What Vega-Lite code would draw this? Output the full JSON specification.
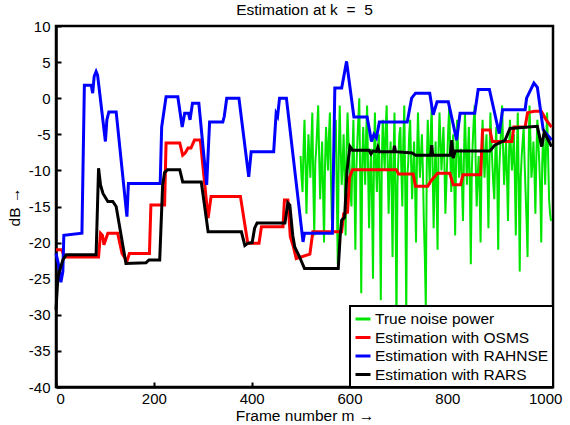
{
  "$schema": "https://vega.github.io/schema/vega-lite/v6.json",
  "width": 497,
  "height": 361,
  "autosize": {"type": "none"},
  "padding": {"left": 56, "top": 26, "right": 17, "bottom": 38},
  "background": "white",
  "title": {"text": "Estimation at k \u00a0=\u00a0 5", "font": "Liberation Sans", "fontSize": 15.5, "fontWeight": "normal", "color": "black", "anchor": "middle", "frame": "group", "offset": 1},
  "data": {"values": [
    {"series":"RAHNSE","frame":0,"dB":-21.5},{"series":"RAHNSE","frame":5,"dB":-23},{"series":"RAHNSE","frame":10,"dB":-25.5},{"series":"RAHNSE","frame":14,"dB":-24},{"series":"RAHNSE","frame":16,"dB":-19},{"series":"RAHNSE","frame":53,"dB":-18.7},{"series":"RAHNSE","frame":58,"dB":1.8},{"series":"RAHNSE","frame":72,"dB":1.8},{"series":"RAHNSE","frame":75,"dB":0.7},{"series":"RAHNSE","frame":78,"dB":3},{"series":"RAHNSE","frame":82,"dB":3.7},{"series":"RAHNSE","frame":85,"dB":3.2},{"series":"RAHNSE","frame":101,"dB":-6},{"series":"RAHNSE","frame":104,"dB":-3},{"series":"RAHNSE","frame":108,"dB":-1.9},{"series":"RAHNSE","frame":123,"dB":-1.9},{"series":"RAHNSE","frame":145,"dB":-16.4},{"series":"RAHNSE","frame":148,"dB":-11.8},{"series":"RAHNSE","frame":213,"dB":-11.8},{"series":"RAHNSE","frame":216,"dB":-4},{"series":"RAHNSE","frame":225,"dB":0.2},{"series":"RAHNSE","frame":249,"dB":0.2},{"series":"RAHNSE","frame":258,"dB":-4},{"series":"RAHNSE","frame":263,"dB":-2.1},{"series":"RAHNSE","frame":271,"dB":-2.1},{"series":"RAHNSE","frame":274,"dB":-3},{"series":"RAHNSE","frame":279,"dB":-0.7},{"series":"RAHNSE","frame":292,"dB":-0.7},{"series":"RAHNSE","frame":308,"dB":-12},{"series":"RAHNSE","frame":314,"dB":-3.3},{"series":"RAHNSE","frame":341,"dB":-3.3},{"series":"RAHNSE","frame":344,"dB":-2.5},{"series":"RAHNSE","frame":349,"dB":0},{"series":"RAHNSE","frame":374,"dB":0},{"series":"RAHNSE","frame":394,"dB":-10.9},{"series":"RAHNSE","frame":399,"dB":-7.4},{"series":"RAHNSE","frame":445,"dB":-7.4},{"series":"RAHNSE","frame":450,"dB":-2.1},{"series":"RAHNSE","frame":453,"dB":-2.5},{"series":"RAHNSE","frame":457,"dB":0},{"series":"RAHNSE","frame":471,"dB":0},{"series":"RAHNSE","frame":505,"dB":-19.9},{"series":"RAHNSE","frame":508,"dB":-18.7},{"series":"RAHNSE","frame":565,"dB":-18.7},{"series":"RAHNSE","frame":570,"dB":1.4},{"series":"RAHNSE","frame":584,"dB":1.4},{"series":"RAHNSE","frame":594,"dB":5.1},{"series":"RAHNSE","frame":609,"dB":-2.6},{"series":"RAHNSE","frame":636,"dB":-2.6},{"series":"RAHNSE","frame":645,"dB":-6},{"series":"RAHNSE","frame":650,"dB":-5},{"series":"RAHNSE","frame":655,"dB":-5.5},{"series":"RAHNSE","frame":661,"dB":-3.3},{"series":"RAHNSE","frame":718,"dB":-3.3},{"series":"RAHNSE","frame":727,"dB":0},{"series":"RAHNSE","frame":735,"dB":0.7},{"series":"RAHNSE","frame":764,"dB":0.7},{"series":"RAHNSE","frame":771,"dB":-2.3},{"series":"RAHNSE","frame":779,"dB":-0.5},{"series":"RAHNSE","frame":802,"dB":-0.5},{"series":"RAHNSE","frame":819,"dB":-5.8},{"series":"RAHNSE","frame":826,"dB":-2.1},{"series":"RAHNSE","frame":856,"dB":-2.1},{"series":"RAHNSE","frame":863,"dB":1.2},{"series":"RAHNSE","frame":886,"dB":1.2},{"series":"RAHNSE","frame":906,"dB":-4.9},{"series":"RAHNSE","frame":913,"dB":-1.6},{"series":"RAHNSE","frame":959,"dB":-1.6},{"series":"RAHNSE","frame":962,"dB":0},{"series":"RAHNSE","frame":977,"dB":2.1},{"series":"RAHNSE","frame":984,"dB":1.5},{"series":"RAHNSE","frame":996,"dB":-4.4},{"series":"RAHNSE","frame":1013,"dB":-5.8},

    {"series":"OSMS","frame":0,"dB":-21},{"series":"OSMS","frame":12,"dB":-21},{"series":"OSMS","frame":17,"dB":-22},{"series":"OSMS","frame":87,"dB":-22},{"series":"OSMS","frame":91,"dB":-18.7},{"series":"OSMS","frame":95,"dB":-19},{"series":"OSMS","frame":98,"dB":-20.3},{"series":"OSMS","frame":102,"dB":-19.5},{"series":"OSMS","frame":106,"dB":-18.7},{"series":"OSMS","frame":126,"dB":-18.7},{"series":"OSMS","frame":135,"dB":-21.5},{"series":"OSMS","frame":145,"dB":-22.6},{"series":"OSMS","frame":150,"dB":-21.5},{"series":"OSMS","frame":191,"dB":-21.5},{"series":"OSMS","frame":194,"dB":-14.8},{"series":"OSMS","frame":222,"dB":-14.8},{"series":"OSMS","frame":225,"dB":-6.2},{"series":"OSMS","frame":253,"dB":-6.2},{"series":"OSMS","frame":259,"dB":-7.9},{"series":"OSMS","frame":264,"dB":-7.6},{"series":"OSMS","frame":270,"dB":-6.9},{"series":"OSMS","frame":276,"dB":-6.9},{"series":"OSMS","frame":283,"dB":-5.8},{"series":"OSMS","frame":295,"dB":-5.8},{"series":"OSMS","frame":311,"dB":-16.6},{"series":"OSMS","frame":317,"dB":-13.6},{"series":"OSMS","frame":377,"dB":-13.6},{"series":"OSMS","frame":392,"dB":-20.1},{"series":"OSMS","frame":415,"dB":-20.1},{"series":"OSMS","frame":420,"dB":-17.8},{"series":"OSMS","frame":464,"dB":-17.8},{"series":"OSMS","frame":467,"dB":-14.1},{"series":"OSMS","frame":474,"dB":-14.1},{"series":"OSMS","frame":479,"dB":-19.2},{"series":"OSMS","frame":485,"dB":-20.5},{"series":"OSMS","frame":491,"dB":-22.2},{"series":"OSMS","frame":519,"dB":-21.6},{"series":"OSMS","frame":525,"dB":-18.5},{"series":"OSMS","frame":584,"dB":-18.5},{"series":"OSMS","frame":588,"dB":-16},{"series":"OSMS","frame":596,"dB":-15.8},{"series":"OSMS","frame":600,"dB":-11},{"series":"OSMS","frame":606,"dB":-9.9},{"series":"OSMS","frame":696,"dB":-9.9},{"series":"OSMS","frame":700,"dB":-10.5},{"series":"OSMS","frame":730,"dB":-10.5},{"series":"OSMS","frame":735,"dB":-12.2},{"series":"OSMS","frame":760,"dB":-12.2},{"series":"OSMS","frame":766,"dB":-11.5},{"series":"OSMS","frame":780,"dB":-10.4},{"series":"OSMS","frame":805,"dB":-10.4},{"series":"OSMS","frame":812,"dB":-12},{"series":"OSMS","frame":827,"dB":-12},{"series":"OSMS","frame":832,"dB":-10.6},{"series":"OSMS","frame":868,"dB":-10.6},{"series":"OSMS","frame":872,"dB":-4.4},{"series":"OSMS","frame":887,"dB":-4.4},{"series":"OSMS","frame":892,"dB":-6},{"series":"OSMS","frame":932,"dB":-6},{"series":"OSMS","frame":936,"dB":-4},{"series":"OSMS","frame":959,"dB":-4},{"series":"OSMS","frame":964,"dB":-2},{"series":"OSMS","frame":978,"dB":-1.8},{"series":"OSMS","frame":992,"dB":-1.8},{"series":"OSMS","frame":1002,"dB":-3},{"series":"OSMS","frame":1013,"dB":-4},

    {"series":"RARS","frame":0,"dB":-29.3},{"series":"RARS","frame":4,"dB":-24.7},{"series":"RARS","frame":14,"dB":-22.4},{"series":"RARS","frame":21,"dB":-21.7},{"series":"RARS","frame":82,"dB":-21.7},{"series":"RARS","frame":87,"dB":-9.7},{"series":"RARS","frame":91,"dB":-12},{"series":"RARS","frame":96,"dB":-13.2},{"series":"RARS","frame":106,"dB":-14.3},{"series":"RARS","frame":116,"dB":-14.3},{"series":"RARS","frame":123,"dB":-15},{"series":"RARS","frame":143,"dB":-22.9},{"series":"RARS","frame":184,"dB":-22.8},{"series":"RARS","frame":190,"dB":-22.4},{"series":"RARS","frame":212,"dB":-22.4},{"series":"RARS","frame":218,"dB":-12},{"series":"RARS","frame":222,"dB":-10.3},{"series":"RARS","frame":228,"dB":-9.9},{"series":"RARS","frame":253,"dB":-9.9},{"series":"RARS","frame":259,"dB":-11.6},{"series":"RARS","frame":297,"dB":-11.6},{"series":"RARS","frame":311,"dB":-18.5},{"series":"RARS","frame":379,"dB":-18.5},{"series":"RARS","frame":386,"dB":-20.4},{"series":"RARS","frame":392,"dB":-20.1},{"series":"RARS","frame":401,"dB":-20},{"series":"RARS","frame":406,"dB":-18},{"series":"RARS","frame":411,"dB":-17.3},{"series":"RARS","frame":468,"dB":-17.3},{"series":"RARS","frame":474,"dB":-14.5},{"series":"RARS","frame":478,"dB":-14.8},{"series":"RARS","frame":484,"dB":-19},{"series":"RARS","frame":488,"dB":-20.6},{"series":"RARS","frame":498,"dB":-22},{"series":"RARS","frame":508,"dB":-23.6},{"series":"RARS","frame":577,"dB":-23.6},{"series":"RARS","frame":581,"dB":-19},{"series":"RARS","frame":584,"dB":-16.9},{"series":"RARS","frame":590,"dB":-16.5},{"series":"RARS","frame":595,"dB":-10},{"series":"RARS","frame":601,"dB":-6.7},{"series":"RARS","frame":606,"dB":-7.2},{"series":"RARS","frame":640,"dB":-7.2},{"series":"RARS","frame":644,"dB":-7.7},{"series":"RARS","frame":648,"dB":-7.3},{"series":"RARS","frame":655,"dB":-7.4},{"series":"RARS","frame":658,"dB":-6.8},{"series":"RARS","frame":661,"dB":-7.4},{"series":"RARS","frame":690,"dB":-7.4},{"series":"RARS","frame":692,"dB":-6.6},{"series":"RARS","frame":694,"dB":-7.4},{"series":"RARS","frame":728,"dB":-7.6},{"series":"RARS","frame":735,"dB":-7.9},{"series":"RARS","frame":766,"dB":-7.9},{"series":"RARS","frame":768,"dB":-6.5},{"series":"RARS","frame":770,"dB":-7.9},{"series":"RARS","frame":806,"dB":-7.9},{"series":"RARS","frame":809,"dB":-5.8},{"series":"RARS","frame":812,"dB":-8.3},{"series":"RARS","frame":816,"dB":-7.3},{"series":"RARS","frame":887,"dB":-7.3},{"series":"RARS","frame":897,"dB":-6.5},{"series":"RARS","frame":918,"dB":-5.8},{"series":"RARS","frame":928,"dB":-4.2},{"series":"RARS","frame":984,"dB":-3.9},{"series":"RARS","frame":993,"dB":-6.7},{"series":"RARS","frame":998,"dB":-4.7},{"series":"RARS","frame":1004,"dB":-5.5},{"series":"RARS","frame":1013,"dB":-6.7},

    {"series":"True","frame":500,"dB":-8},{"series":"True","frame":502,"dB":-11},{"series":"True","frame":504,"dB":-13},{"series":"True","frame":506,"dB":-7},{"series":"True","frame":508,"dB":-3},{"series":"True","frame":510,"dB":-9},{"series":"True","frame":512,"dB":-16},{"series":"True","frame":514,"dB":-10},{"series":"True","frame":516,"dB":-5},{"series":"True","frame":518,"dB":-8},{"series":"True","frame":520,"dB":-11},{"series":"True","frame":522,"dB":-6},{"series":"True","frame":524,"dB":-2},{"series":"True","frame":526,"dB":-12},{"series":"True","frame":528,"dB":-19},{"series":"True","frame":530,"dB":-9},{"series":"True","frame":532,"dB":-7},{"series":"True","frame":534,"dB":-4},{"series":"True","frame":536,"dB":-1},{"series":"True","frame":538,"dB":-8},{"series":"True","frame":540,"dB":-14},{"series":"True","frame":542,"dB":-10},{"series":"True","frame":544,"dB":-6},{"series":"True","frame":546,"dB":-13},{"series":"True","frame":548,"dB":-20},{"series":"True","frame":550,"dB":-9},{"series":"True","frame":552,"dB":-4},{"series":"True","frame":554,"dB":-7},{"series":"True","frame":556,"dB":-10},{"series":"True","frame":558,"dB":-5},{"series":"True","frame":560,"dB":-2},{"series":"True","frame":562,"dB":-11},{"series":"True","frame":564,"dB":-17},{"series":"True","frame":566,"dB":-12},{"series":"True","frame":568,"dB":-8},{"series":"True","frame":570,"dB":-6},{"series":"True","frame":572,"dB":-3},{"series":"True","frame":574,"dB":-13},{"series":"True","frame":576,"dB":-23},{"series":"True","frame":578,"dB":-8},{"series":"True","frame":580,"dB":-1},{"series":"True","frame":582,"dB":-7},{"series":"True","frame":584,"dB":-12},{"series":"True","frame":586,"dB":-9},{"series":"True","frame":588,"dB":-5},{"series":"True","frame":590,"dB":-11},{"series":"True","frame":592,"dB":-19},{"series":"True","frame":594,"dB":-7},{"series":"True","frame":596,"dB":-2},{"series":"True","frame":598,"dB":-6},{"series":"True","frame":600,"dB":-9},{"series":"True","frame":602,"dB":-13},{"series":"True","frame":604,"dB":-15},{"series":"True","frame":606,"dB":-8},{"series":"True","frame":608,"dB":-3},{"series":"True","frame":610,"dB":-12},{"series":"True","frame":612,"dB":-21},{"series":"True","frame":614,"dB":-10},{"series":"True","frame":616,"dB":-6},{"series":"True","frame":618,"dB":-3},{"series":"True","frame":620,"dB":0},{"series":"True","frame":622,"dB":-12},{"series":"True","frame":624,"dB":-27},{"series":"True","frame":626,"dB":-9},{"series":"True","frame":628,"dB":-4},{"series":"True","frame":630,"dB":-8},{"series":"True","frame":632,"dB":-12},{"series":"True","frame":634,"dB":-5},{"series":"True","frame":636,"dB":-1},{"series":"True","frame":638,"dB":-10},{"series":"True","frame":640,"dB":-18},{"series":"True","frame":642,"dB":-11},{"series":"True","frame":644,"dB":-7},{"series":"True","frame":646,"dB":-14},{"series":"True","frame":648,"dB":-25},{"series":"True","frame":650,"dB":-8},{"series":"True","frame":652,"dB":-2},{"series":"True","frame":654,"dB":-9},{"series":"True","frame":656,"dB":-13},{"series":"True","frame":658,"dB":-8},{"series":"True","frame":660,"dB":-5},{"series":"True","frame":662,"dB":-14},{"series":"True","frame":664,"dB":-28},{"series":"True","frame":666,"dB":-9},{"series":"True","frame":668,"dB":-3},{"series":"True","frame":670,"dB":-7},{"series":"True","frame":672,"dB":-10},{"series":"True","frame":674,"dB":-4},{"series":"True","frame":676,"dB":-1},{"series":"True","frame":678,"dB":-9},{"series":"True","frame":680,"dB":-16},{"series":"True","frame":682,"dB":-10},{"series":"True","frame":684,"dB":-6},{"series":"True","frame":686,"dB":-12},{"series":"True","frame":688,"dB":-22},{"series":"True","frame":690,"dB":-8},{"series":"True","frame":692,"dB":-2},{"series":"True","frame":694,"dB":-14},{"series":"True","frame":696,"dB":-31},{"series":"True","frame":698,"dB":-12},{"series":"True","frame":700,"dB":-8},{"series":"True","frame":702,"dB":-5},{"series":"True","frame":704,"dB":-4},{"series":"True","frame":706,"dB":-10},{"series":"True","frame":708,"dB":-15},{"series":"True","frame":710,"dB":-6},{"series":"True","frame":712,"dB":-1},{"series":"True","frame":714,"dB":-13},{"series":"True","frame":716,"dB":-30},{"series":"True","frame":718,"dB":-11},{"series":"True","frame":720,"dB":-9},{"series":"True","frame":722,"dB":-5},{"series":"True","frame":724,"dB":-3},{"series":"True","frame":726,"dB":-9},{"series":"True","frame":728,"dB":-14},{"series":"True","frame":730,"dB":-10},{"series":"True","frame":732,"dB":-6},{"series":"True","frame":734,"dB":-12},{"series":"True","frame":736,"dB":-20},{"series":"True","frame":738,"dB":-8},{"series":"True","frame":740,"dB":-2},{"series":"True","frame":742,"dB":-7},{"series":"True","frame":744,"dB":-11},{"series":"True","frame":746,"dB":-8},{"series":"True","frame":748,"dB":-5},{"series":"True","frame":750,"dB":-10},{"series":"True","frame":752,"dB":-17},{"series":"True","frame":754,"dB":-22},{"series":"True","frame":756,"dB":-29},{"series":"True","frame":758,"dB":-9},{"series":"True","frame":760,"dB":-3},{"series":"True","frame":762,"dB":-8},{"series":"True","frame":764,"dB":-12},{"series":"True","frame":766,"dB":-5},{"series":"True","frame":768,"dB":-1},{"series":"True","frame":770,"dB":-10},{"series":"True","frame":772,"dB":-18},{"series":"True","frame":774,"dB":-11},{"series":"True","frame":776,"dB":-6},{"series":"True","frame":778,"dB":-13},{"series":"True","frame":780,"dB":-21},{"series":"True","frame":782,"dB":-7},{"series":"True","frame":784,"dB":-2},{"series":"True","frame":786,"dB":-6},{"series":"True","frame":788,"dB":-10},{"series":"True","frame":790,"dB":-7},{"series":"True","frame":792,"dB":-4},{"series":"True","frame":794,"dB":-9},{"series":"True","frame":796,"dB":-16},{"series":"True","frame":798,"dB":-12},{"series":"True","frame":800,"dB":-8},{"series":"True","frame":802,"dB":-4},{"series":"True","frame":804,"dB":-1},{"series":"True","frame":806,"dB":-8},{"series":"True","frame":808,"dB":-13},{"series":"True","frame":810,"dB":-9},{"series":"True","frame":812,"dB":-5},{"series":"True","frame":814,"dB":-11},{"series":"True","frame":816,"dB":-19},{"series":"True","frame":818,"dB":-8},{"series":"True","frame":820,"dB":-3},{"series":"True","frame":822,"dB":-7},{"series":"True","frame":824,"dB":-11},{"series":"True","frame":826,"dB":-9},{"series":"True","frame":828,"dB":-7},{"series":"True","frame":830,"dB":-12},{"series":"True","frame":832,"dB":-17},{"series":"True","frame":834,"dB":-8},{"series":"True","frame":836,"dB":-2},{"series":"True","frame":838,"dB":-7},{"series":"True","frame":840,"dB":-12},{"series":"True","frame":842,"dB":-8},{"series":"True","frame":844,"dB":-4},{"series":"True","frame":846,"dB":-12},{"series":"True","frame":848,"dB":-23},{"series":"True","frame":850,"dB":-10},{"series":"True","frame":852,"dB":-6},{"series":"True","frame":854,"dB":-3},{"series":"True","frame":856,"dB":-1},{"series":"True","frame":858,"dB":-9},{"series":"True","frame":860,"dB":-15},{"series":"True","frame":862,"dB":-11},{"series":"True","frame":864,"dB":-8},{"series":"True","frame":866,"dB":-13},{"series":"True","frame":868,"dB":-20},{"series":"True","frame":870,"dB":-9},{"series":"True","frame":872,"dB":-3},{"series":"True","frame":874,"dB":-7},{"series":"True","frame":876,"dB":-11},{"series":"True","frame":878,"dB":-8},{"series":"True","frame":880,"dB":-5},{"series":"True","frame":882,"dB":-10},{"series":"True","frame":884,"dB":-18},{"series":"True","frame":886,"dB":-9},{"series":"True","frame":888,"dB":-2},{"series":"True","frame":890,"dB":-6},{"series":"True","frame":892,"dB":-9},{"series":"True","frame":894,"dB":-12},{"series":"True","frame":896,"dB":-14},{"series":"True","frame":898,"dB":-8},{"series":"True","frame":900,"dB":-4},{"series":"True","frame":902,"dB":-11},{"series":"True","frame":904,"dB":-21},{"series":"True","frame":906,"dB":-10},{"series":"True","frame":908,"dB":-7},{"series":"True","frame":910,"dB":-4},{"series":"True","frame":912,"dB":-1},{"series":"True","frame":914,"dB":-7},{"series":"True","frame":916,"dB":-12},{"series":"True","frame":918,"dB":-9},{"series":"True","frame":920,"dB":-6},{"series":"True","frame":922,"dB":-11},{"series":"True","frame":924,"dB":-17},{"series":"True","frame":926,"dB":-8},{"series":"True","frame":928,"dB":-3},{"series":"True","frame":930,"dB":-7},{"series":"True","frame":932,"dB":-10},{"series":"True","frame":934,"dB":-8},{"series":"True","frame":936,"dB":-5},{"series":"True","frame":938,"dB":-11},{"series":"True","frame":940,"dB":-19},{"series":"True","frame":942,"dB":-8},{"series":"True","frame":944,"dB":-2},{"series":"True","frame":946,"dB":-12},{"series":"True","frame":948,"dB":-24},{"series":"True","frame":950,"dB":-11},{"series":"True","frame":952,"dB":-8},{"series":"True","frame":954,"dB":-6},{"series":"True","frame":956,"dB":-4},{"series":"True","frame":958,"dB":-9},{"series":"True","frame":960,"dB":-13},{"series":"True","frame":962,"dB":-17},{"series":"True","frame":964,"dB":-22},{"series":"True","frame":966,"dB":-8},{"series":"True","frame":968,"dB":-1},{"series":"True","frame":970,"dB":-6},{"series":"True","frame":972,"dB":-11},{"series":"True","frame":974,"dB":-9},{"series":"True","frame":976,"dB":-6},{"series":"True","frame":978,"dB":-10},{"series":"True","frame":980,"dB":-16},{"series":"True","frame":982,"dB":-8},{"series":"True","frame":984,"dB":-3},{"series":"True","frame":986,"dB":-6},{"series":"True","frame":988,"dB":-9},{"series":"True","frame":990,"dB":-13},{"series":"True","frame":992,"dB":-20},{"series":"True","frame":994,"dB":-9},{"series":"True","frame":996,"dB":-5},{"series":"True","frame":998,"dB":-8},{"series":"True","frame":1000,"dB":-12},{"series":"True","frame":1002,"dB":-6},{"series":"True","frame":1004,"dB":-2},{"series":"True","frame":1006,"dB":-8},{"series":"True","frame":1008,"dB":-14},{"series":"True","frame":1010,"dB":-16},{"series":"True","frame":1012,"dB":-17}
  ]},
  "encoding": {
    "x": {"field": "frame", "type": "quantitative", "scale": {"domain": [0, 1016], "nice": false, "zero": false},
          "axis": {"orient": "bottom", "values": [0, 200, 400, 600, 800, 1000], "title": "Frame number m →", "labelExpr": "'' + datum.value", "labelPadding": 9, "titlePadding": 2}},
    "y": {"field": "dB", "type": "quantitative", "scale": {"domain": [-40, 10], "nice": false, "zero": false},
          "axis": {"orient": "left", "values": [-40, -35, -30, -25, -20, -15, -10, -5, 0, 5, 10], "title": "dB →", "labelExpr": "'' + datum.value", "labelPadding": 11, "titlePadding": 6}},
    "color": {"field": "series", "type": "nominal",
              "scale": {"domain": ["True", "OSMS", "RAHNSE", "RARS"], "range": ["#00e600", "#ff0000", "#0000ff", "#000000"]},
              "legend": {"title": null, "orient": "bottom-right", "offset": 0,
                         "labelExpr": "datum.label == 'True' ? 'True noise power' : 'Estimation with ' + datum.label"}}
  },
  "layer": [
    {"transform": [{"filter": "datum.series == 'True'"}], "mark": {"type": "line", "strokeWidth": 2}},
    {"transform": [{"filter": "datum.series == 'OSMS'"}], "mark": {"type": "line", "strokeWidth": 3}},
    {"transform": [{"filter": "datum.series == 'RAHNSE'"}], "mark": {"type": "line", "strokeWidth": 3}},
    {"transform": [{"filter": "datum.series == 'RARS'"}], "mark": {"type": "line", "strokeWidth": 3}}
  ],
  "config": {
    "font": "Liberation Sans",
    "view": {"stroke": "black", "strokeWidth": 2.5},
    "axis": {"grid": false, "domainColor": "black", "domainWidth": 2.5, "tickColor": "black", "tickWidth": 2, "tickSize": -5,
             "labelFont": "Liberation Sans", "labelFontSize": 15, "labelColor": "black",
             "titleFont": "Liberation Sans", "titleFontSize": 15.5, "titleFontWeight": "normal", "titleColor": "black"},
    "legend": {"strokeColor": "black", "strokeWidth": 2, "fillColor": "white", "padding": 4, "rowPadding": 0.5,
               "symbolType": "stroke", "symbolSize": 225, "symbolStrokeWidth": 3, "labelOffset": 3,
               "labelFont": "Liberation Sans", "labelFontSize": 15.5, "labelColor": "black", "labelLimit": 400, "cornerRadius": 0}
  }
}
